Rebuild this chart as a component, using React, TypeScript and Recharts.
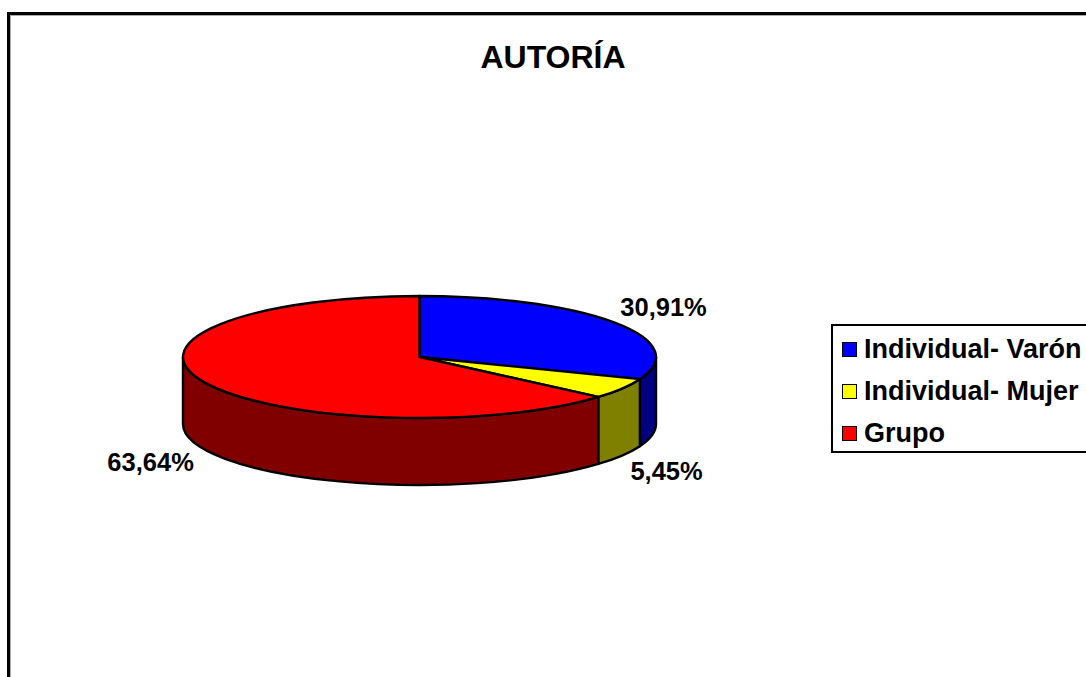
import { PieChart, Pie, Legend } from "recharts";

const categories = ["Individual- Varón", "Individual- Mujer", "Grupo"];
const percents = [30.91, 5.45, 63.64];
const topColors = ["#0000ff", "#ffff00", "#ff0000"];
const wallColors = ["#000080", "#808000", "#800000"];

const topData = categories.map((name, i) => ({ name, value: percents[i], fill: topColors[i] }));
const wallData = categories.map((name, i) => ({ name, value: percents[i], fill: wallColors[i] }));

const FONT = "'Liberation Sans', Arial, sans-serif";
const CX = 419.5;
const CY = 357;
const RX = 236.5;
const TILT = 61 / 236.5;
const DEPTH = 67;

// recharts angles are counter clockwise from 3 o'clock, flatten the circle into an ellipse
const pt = (angle: number, rx: number, dy = 0) => {
  const a = (angle * Math.PI) / 180;
  return [CX + rx * Math.cos(a), CY - rx * TILT * Math.sin(a) + dy];
};

const TopSlice = (props: any) => {
  const { outerRadius: r, startAngle, endAngle, fill } = props;
  const [x1, y1] = pt(startAngle, r);
  const [x2, y2] = pt(endAngle, r);
  const large = Math.abs(startAngle - endAngle) > 180 ? 1 : 0;
  const d = `M${CX},${CY} L${x1},${y1} A${r},${r * TILT} 0 ${large} 1 ${x2},${y2} Z`;
  return <path d={d} fill={fill} stroke="#000" strokeWidth={2.4} strokeLinejoin="round" />;
};

// only the front half of the rim can be seen
const WallSlice = (props: any) => {
  const { outerRadius: r, startAngle, endAngle, fill } = props;
  const from = Math.min(startAngle, 0);
  const to = Math.max(endAngle, -180);
  if (from <= to) return <g />;
  const [x1, y1] = pt(from, r);
  const [x2, y2] = pt(to, r);
  const d =
    `M${x1},${y1} A${r},${r * TILT} 0 0 1 ${x2},${y2} ` +
    `L${x2},${y2 + DEPTH} A${r},${r * TILT} 0 0 0 ${x1},${y1 + DEPTH} Z`;
  return <path d={d} fill={fill} stroke="#000" strokeWidth={2.4} strokeLinejoin="round" />;
};

const labelPush = [1.25, 1.22, 1.25];

const renderLabel = (props: any) => {
  const { midAngle, index, value } = props;
  const a = (midAngle * Math.PI) / 180;
  const x = CX + RX * labelPush[index] * Math.cos(a);
  const s = Math.sin(a);
  const y = s < 0 ? CY - RX * TILT * 1.5 * s + DEPTH : CY - RX * TILT * 1.45 * s;
  return (
    <text
      x={x}
      y={y}
      textAnchor="middle"
      dominantBaseline="central"
      fontFamily={FONT}
      fontWeight="bold"
      fontSize={25.5}
      fill="#000"
    >
      {value.toFixed(2).replace(".", ",")}%
    </text>
  );
};

const LegendBox = ({ payload }: any) => {
  // the wall pie also lands in the payload, keep the top colours in data order
  const items = (payload || [])
    .filter((p: any) => topColors.includes(p.color))
    .sort((a: any, b: any) => categories.indexOf(a.value) - categories.indexOf(b.value));
  return (
    <div
      style={{
        boxSizing: "border-box",
        width: 270,
        height: 129,
        border: "2px solid #000",
        background: "#fff",
        fontFamily: FONT,
        fontWeight: "bold",
        fontSize: 27,
        paddingTop: 2,
      }}
    >
      {items.map((p: any) => (
        <div key={p.value} style={{ display: "flex", alignItems: "center", height: 42, paddingLeft: 9 }}>
          <span
            style={{
              display: "inline-block",
              boxSizing: "border-box",
              width: 15,
              height: 15,
              background: p.color,
              border: "1.5px solid #000",
              marginRight: 7,
            }}
          />
          <span style={{ whiteSpace: "nowrap", color: "#000" }}>{p.value}</span>
        </div>
      ))}
    </div>
  );
};

export default function App() {
  return (
    <div style={{ position: "absolute", left: 0, top: 0, width: 1086, height: 677, overflow: "hidden", background: "#fff" }}>
      <div
        style={{
          position: "absolute",
          left: 7,
          top: 12,
          width: 1200,
          height: 800,
          borderLeft: "3px solid #000",
          borderTop: "3px solid #000",
          boxShadow: "inset 1px 1px 0 #aaa",
        }}
      />
      <PieChart width={1086} height={677} style={{ position: "absolute", left: 0, top: 0 }}>
        <text x={553} y={68} textAnchor="middle" fontFamily={FONT} fontWeight="bold" fontSize={32} fill="#000">
          AUTORÍA
        </text>
        <Pie
          data={wallData}
          dataKey="value"
          nameKey="name"
          cx={CX}
          cy={CY}
          outerRadius={RX}
          startAngle={90}
          endAngle={-270}
          shape={WallSlice}
          legendType="none"
          label={false}
          isAnimationActive={false}
        />
        <Pie
          data={topData}
          dataKey="value"
          nameKey="name"
          cx={CX}
          cy={CY}
          outerRadius={RX}
          startAngle={90}
          endAngle={-270}
          shape={TopSlice}
          label={renderLabel}
          labelLine={false}
          isAnimationActive={false}
        />
        <Legend content={<LegendBox />} wrapperStyle={{ left: 831, top: 324, width: 270, height: 129, bottom: "auto" }} />
      </PieChart>
    </div>
  );
}
